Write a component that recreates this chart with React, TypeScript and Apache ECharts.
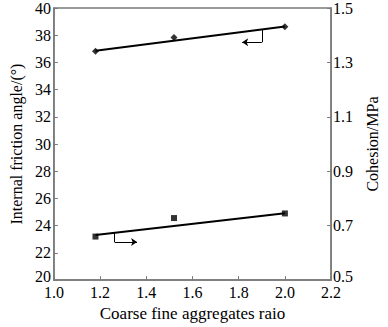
import React, { useEffect, useRef } from "react";
import * as echarts from "echarts";

const ratios = [1.18, 1.52, 2.0];
const frictionAngle = [36.83, 37.84, 38.63];
const cohesion = [0.66, 0.728, 0.745];
const frictionFitX = [1.18, 2.0];
const frictionFit = [36.86, 38.64];
const cohesionFitX = [1.18, 2.0];
const cohesionFit = [0.666, 0.746];
const rightTicks = [0.5, 0.7, 0.9, 1.1, 1.3, 1.5];
// arrow annotations: [x, y] corner paths
const frictionArrow = [[1.9, 38.42], [1.9, 37.48], [1.815, 37.48]];
const cohesionArrow = [[1.263, 0.673], [1.263, 0.64], [1.36, 0.64]];

const FONT = "'Liberation Serif', 'Times New Roman', serif";
const AXIS_COLOR = "#7a7a7a";

export default function App() {
  const ref = useRef<HTMLDivElement>(null);
  useEffect(() => {
    if (!ref.current) return;
    const chart = echarts.init(ref.current, undefined, { renderer: "svg" });
    const arrowMark = (pts: number[][]) => ({
      silent: true,
      animation: false,
      label: { show: false },
      lineStyle: { color: "#000", width: 1, type: "solid" },
      symbolSize: 6,
      data: [
        [
          { coord: pts[0], symbol: "none" },
          { coord: pts[1], symbol: "none" },
        ],
        [
          { coord: pts[1], symbol: "none" },
          { coord: pts[2], symbol: "arrow" },
        ],
      ],
    });
    const lowRich = {
      n: { fontFamily: FONT, fontSize: 16, color: "#000" },
      low: { fontFamily: FONT, fontSize: 16, color: "#000", padding: [0, 0, 8, 0] },
    };
    chart.setOption({
      animation: false,
      backgroundColor: "#fff",
      textStyle: { fontFamily: FONT, color: "#000" },
      grid: {
        left: 43,
        right: 44,
        top: 7,
        bottom: 42,
        show: true,
        borderColor: AXIS_COLOR,
        borderWidth: 1.5,
        backgroundColor: "transparent",
      },
      xAxis: {
        type: "value",
        min: 1.0,
        max: 2.2,
        interval: 0.2,
        name: "Coarse fine aggregates raio",
        nameLocation: "middle",
        nameGap: 20,
        nameTextStyle: { fontFamily: FONT, fontSize: 17, color: "#000" },
        axisLine: { show: true, lineStyle: { color: AXIS_COLOR, width: 1.5 } },
        axisTick: { show: true, inside: true, length: 4, lineStyle: { color: AXIS_COLOR } },
        axisLabel: {
          fontFamily: FONT,
          fontSize: 16,
          lineHeight: 14,
          color: "#000",
          margin: 5,
          formatter: (v: number) => v.toFixed(1),
        },
        splitLine: { show: false },
      },
      yAxis: [
        {
          type: "value",
          min: 20,
          max: 40,
          interval: 2,
          name: "Internal friction angle/(°)",
          nameLocation: "middle",
          nameGap: 28,
          nameTextStyle: { fontFamily: FONT, fontSize: 16, color: "#000" },
          axisLine: { show: true, lineStyle: { color: AXIS_COLOR, width: 1.5 } },
          axisTick: { show: true, inside: true, length: 4, lineStyle: { color: AXIS_COLOR } },
          axisLabel: {
            fontFamily: FONT,
            fontSize: 16,
            color: "#000",
            margin: 3,
            formatter: (v: number) => (v === 20 ? `{low|${v}}` : `{n|${v}}`),
            rich: lowRich,
          },
          splitLine: { show: false },
        },
        {
          type: "value",
          min: 0.5,
          max: 1.5,
          position: "right",
          name: "Cohesion/MPa",
          nameLocation: "middle",
          nameGap: 31,
          nameRotate: 90,
          nameTextStyle: { fontFamily: FONT, fontSize: 16, color: "#000" },
          axisLine: { show: true, lineStyle: { color: AXIS_COLOR, width: 1.5 } },
          axisTick: {
            show: true,
            inside: true,
            length: 4,
            customValues: rightTicks,
            lineStyle: { color: AXIS_COLOR },
          },
          axisLabel: {
            fontFamily: FONT,
            fontSize: 16,
            color: "#000",
            margin: 2,
            customValues: rightTicks,
            formatter: (v: number) =>
              Math.abs(v - 0.5) < 1e-9 ? `{low|${v.toFixed(1)}}` : `{n|${v.toFixed(1)}}`,
            rich: lowRich,
          },
          splitLine: { show: false },
        },
      ],
      series: [
        {
          type: "line",
          yAxisIndex: 0,
          data: frictionFitX.map((x, i) => [x, frictionFit[i]]),
          symbol: "none",
          lineStyle: { color: "#000", width: 2 },
          z: 2,
          markLine: arrowMark(frictionArrow),
        },
        {
          type: "scatter",
          yAxisIndex: 0,
          data: ratios.map((x, i) => [x, frictionAngle[i]]),
          symbol: "diamond",
          symbolSize: 7,
          itemStyle: { color: "#000" },
          z: 3,
        },
        {
          type: "line",
          yAxisIndex: 1,
          data: cohesionFitX.map((x, i) => [x, cohesionFit[i]]),
          symbol: "none",
          lineStyle: { color: "#000", width: 2 },
          z: 2,
          markLine: arrowMark(cohesionArrow),
        },
        {
          type: "scatter",
          yAxisIndex: 1,
          data: ratios.map((x, i) => [x, cohesion[i]]),
          symbol: "rect",
          symbolSize: 6,
          itemStyle: { color: "#000" },
          z: 3,
        },
      ],
    });
    return () => chart.dispose();
  }, []);
  return <div ref={ref} style={{ width: 388, height: 327, position: "absolute", left: 0, top: 0 }} />;
}
